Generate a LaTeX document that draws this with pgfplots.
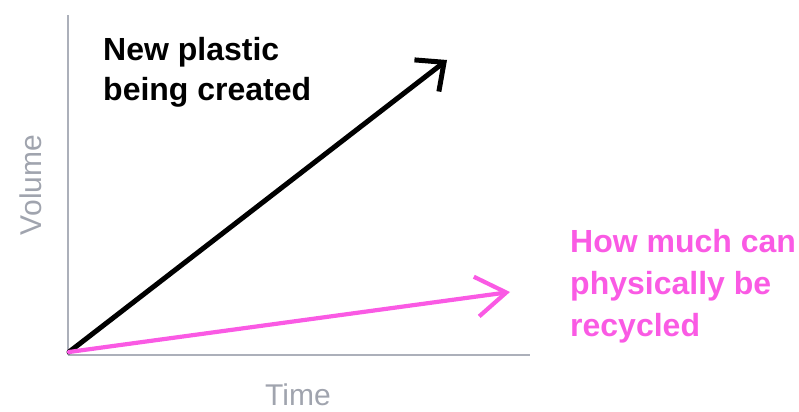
\documentclass[border=0pt]{standalone}
\usepackage{pgfplots}
\pgfplotsset{compat=1.18}
\usepackage{fontspec}
\setmainfont{Liberation Sans}
\usetikzlibrary{arrows.meta}
\definecolor{axgrey}{RGB}{172,176,186}
\definecolor{lblgrey}{RGB}{160,164,174}
\definecolor{recpink}{RGB}{250,90,228}
\begin{document}
\begin{tikzpicture}
\path[use as bounding box] (0,0) rectangle (799bp,412bp);
\begin{axis}[
  at={(68bp,57bp)}, anchor=south west,
  scale only axis, width=462bp, height=340bp,
  xmin=0, xmax=462, ymin=0, ymax=340,
  axis lines*=left,
  axis line style={axgrey, line width=2.2bp},
  xtick=\empty, ytick=\empty,
  clip=false,
]
% new plastic
\addplot[black, line width=5bp, line cap=round,
  -{Straight Barb[length=22bp,width=40bp,line width=5bp]}]
  coordinates {(1,3) (379,295)};
% recycled
\addplot[recpink, line width=4.2bp, line cap=round,
  -{Straight Barb[length=30bp,width=40bp,line width=4.2bp]}]
  coordinates {(1,3) (442,63)};

\node[anchor=north west, align=left, inner sep=0pt,
  font=\fontsize{32bp}{40bp}\selectfont\bfseries]
  at (axis cs:35,318) {New plastic\\being created};
\node[anchor=north west, align=left, inner sep=0pt, text=recpink,
  font=\fontsize{32bp}{42bp}\selectfont\bfseries]
  at (axis cs:502,126) {How much can\\physically be\\recycled};
\node[rotate=90, text=lblgrey, inner sep=0pt,
  font=\fontsize{30bp}{36bp}\selectfont]
  at (axis cs:-37,170) {Volume};
\node[text=lblgrey, inner sep=0pt,
  font=\fontsize{30bp}{36bp}\selectfont]
  at (axis cs:230,-40) {Time};
\end{axis}
\end{tikzpicture}
\end{document}
